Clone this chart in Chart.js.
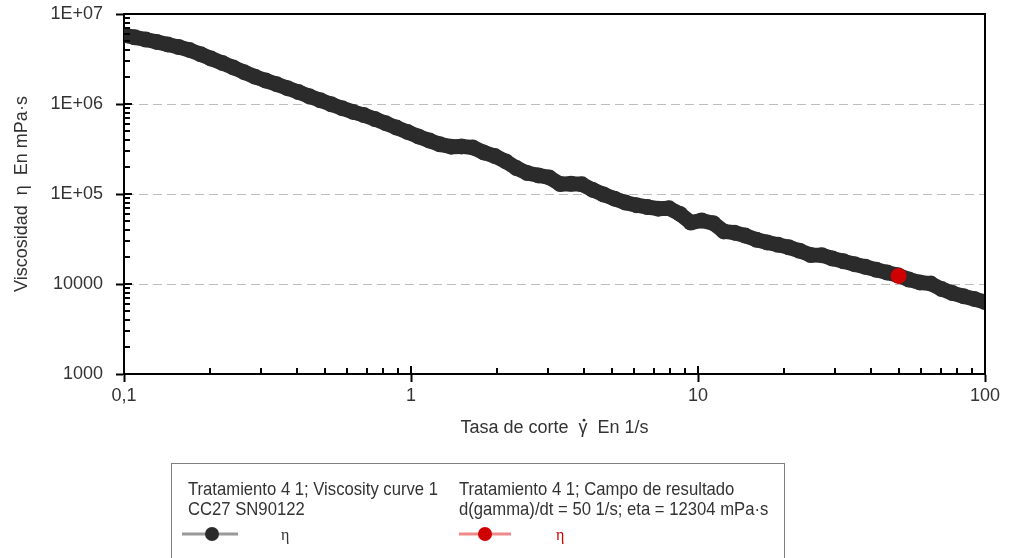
<!DOCTYPE html>
<html lang="es">
<head>
<meta charset="utf-8">
<title>Curva de viscosidad</title>
<script src="https://cdn.jsdelivr.net/npm/chart.js@4.4.1/dist/chart.umd.min.js"></script>
<style>
  html, body { margin: 0; padding: 0; background: #fff; }
  #wrap { width: 1013px; height: 558px; }
</style>
</head>
<body>
<div id="wrap"><canvas id="viscosity-chart" width="1013" height="558"></canvas></div>
<script>
// --- Datos: curva de viscosidad (Tratamiento 4 1) ---
const shearRate = [
    0.1, 0.109, 0.119, 0.130, 0.142, 0.155, 0.169, 0.185, 0.201, 0.220,
    0.240, 0.262, 0.286, 0.312, 0.340, 0.371, 0.405, 0.442, 0.483, 0.527,
    0.575, 0.628, 0.685, 0.748, 0.816, 0.890, 0.972, 1.06, 1.16, 1.26,
    1.38, 1.50, 1.64, 1.79, 1.96, 2.14, 2.33, 2.54, 2.78, 3.03,
    3.31, 3.61, 3.94, 4.30, 4.69, 5.12, 5.59, 6.10, 6.66, 7.26,
    7.93, 8.65, 9.44, 10.3, 11.3, 12.3, 13.4, 14.6, 16.0, 17.4,
    19.0, 20.7, 22.6, 24.7, 27.0, 29.4, 32.1, 35.1, 38.3, 41.8,
    45.6, 49.7, 54.3, 59.3, 64.7, 70.6, 77.0, 84.1, 91.7, 100
];
const viscosity = [
    5.84e6, 5.51e6, 5.21e6, 4.90e6, 4.59e6, 4.30e6, 3.99e6, 3.57e6, 3.20e6, 2.86e6,
    2.55e6, 2.26e6, 2.01e6, 1.82e6, 1.66e6, 1.50e6, 1.36e6, 1.22e6, 1.10e6, 9.93e5,
    8.98e5, 8.17e5, 7.53e5, 6.81e5, 6.12e5, 5.47e5, 4.89e5, 4.36e5, 3.92e5, 3.56e5,
    3.36e5, 3.38e5, 3.29e5, 2.90e5, 2.64e5, 2.30e5, 1.94e5, 1.71e5, 1.61e5, 1.53e5,
    1.29e5, 1.30e5, 1.28e5, 1.11e5, 9.87e4, 8.87e4, 8.02e4, 7.51e4, 7.17e4, 6.87e4,
    6.93e4, 6.01e4, 4.82e4, 5.08e4, 4.74e4, 3.84e4, 3.72e4, 3.45e4, 3.10e4, 2.90e4,
    2.73e4, 2.56e4, 2.34e4, 2.10e4, 2.09e4, 1.92e4, 1.79e4, 1.66e4, 1.55e4, 1.44e4,
    1.34e4, 1.25e4, 1.12e4, 1.04e4, 1.01e4, 8.78e3, 7.92e3, 7.32e3, 6.82e3, 6.31e3
];

// Campo de resultado
const resultRate = [50];
const resultEta = [12304];

// Ejes
const xDecades = [0.1, 1, 10, 100];
const xDecadeLabels = ['0,1', '1', '10', '100'];
const yDecades = [1000, 10000, 1e5, 1e6, 1e7];
const yDecadeLabels = ['1000', '10000', '1E+05', '1E+06', '1E+07'];
const minorSteps = [2, 3, 4, 5, 6, 7, 8, 9];

const FONT = "'Liberation Sans', Arial, sans-serif";
const TEXT_COLOR = '#333';
const CURVE_COLOR = '#2b2b2b';
const RESULT_COLOR = '#d10000';
const X_TITLE_HEAD = 'Tasa de corte  ';

// Lista de marcas: décadas + subdivisiones 2..9
function logTicks(decades) {
    const list = [];
    decades.forEach((d, i) => {
        list.push({ value: d, major: true });
        if (i < decades.length - 1) {
            minorSteps.forEach(m => list.push({ value: d * m, major: false }));
        }
    });
    return list;
}

function isDecade(decades, v) {
    return decades.some(d => Math.abs(d - v) < d * 1e-6);
}

function decadeLabel(decades, labels, v) {
    const i = decades.findIndex(d => Math.abs(d - v) < d * 1e-6);
    return i >= 0 ? labels[i] : '';
}

// Marcas interiores y marco superior/derecho
const frameAndInnerTicks = {
    id: 'frameAndInnerTicks',
    afterDatasetsDraw(chart) {
        const { ctx, chartArea: a, scales: { x, y } } = chart;
        ctx.save();
        ctx.strokeStyle = '#000';
        ctx.lineWidth = 2;
        ctx.beginPath();
        x.ticks.forEach(t => {
            const px = Math.round(x.getPixelForValue(t.value));
            const len = isDecade(xDecades, t.value) ? 8 : 6;
            ctx.moveTo(px, a.bottom);
            ctx.lineTo(px, a.bottom - len);
        });
        y.ticks.forEach(t => {
            const py = Math.round(y.getPixelForValue(t.value));
            const len = isDecade(yDecades, t.value) ? 8 : 6;
            ctx.moveTo(a.left, py);
            ctx.lineTo(a.left + len, py);
        });
        ctx.moveTo(a.left, a.top);
        ctx.lineTo(a.right, a.top);
        ctx.lineTo(a.right, a.bottom);
        ctx.stroke();
        ctx.restore();
    }
};

// Punto de derivada temporal sobre la gamma del título del eje X
const gammaDot = {
    id: 'gammaDot',
    afterDraw(chart) {
        const { ctx, scales: { x } } = chart;
        const title = x.options.title;
        ctx.save();
        ctx.font = title.font.size + 'px ' + FONT;
        const full = ctx.measureText(title.text).width;
        const head = ctx.measureText(X_TITLE_HEAD).width;
        const g = ctx.measureText('γ').width;
        const cx = (x.left + x.right) / 2 - full / 2 + head + g / 2 + 1;
        const cy = x.bottom - title.font.size * 1.2 / 2 - title.padding.bottom - 8;
        ctx.fillStyle = TEXT_COLOR;
        ctx.beginPath();
        ctx.arc(cx, cy, 1.4, 0, Math.PI * 2);
        ctx.fill();
        ctx.restore();
    }
};

// Texto estrecho: se comprime en horizontal
function narrowText(ctx, text, x, y, sx) {
    ctx.save();
    ctx.translate(x, y);
    ctx.scale(sx, 1);
    ctx.fillText(text, 0, 0);
    ctx.restore();
}

// Leyenda en recuadro bajo el gráfico
const boxLegend = {
    id: 'boxLegend',
    afterDraw(chart) {
        const { ctx } = chart;
        ctx.save();
        ctx.strokeStyle = '#808080';
        ctx.lineWidth = 1;
        ctx.strokeRect(171.5, 463.5, 613, 120);

        const line1 = 'Tratamiento 4 1; Viscosity curve 1';
        ctx.fillStyle = TEXT_COLOR;
        ctx.textBaseline = 'alphabetic';
        ctx.textAlign = 'left';
        ctx.font = '19px ' + FONT;
        const sx = 250 / ctx.measureText(line1).width;
        narrowText(ctx, line1, 188, 495, sx);
        narrowText(ctx, 'CC27 SN90122', 188, 515, sx);
        narrowText(ctx, 'Tratamiento 4 1; Campo de resultado', 459, 495, sx);
        narrowText(ctx, 'd(gamma)/dt = ' + resultRate[0] + ' 1/s; eta = ' + resultEta[0] + ' mPa·s', 459, 515, sx);

        // Símbolo serie 1
        ctx.strokeStyle = '#999';
        ctx.lineWidth = 3;
        ctx.beginPath();
        ctx.moveTo(182, 534);
        ctx.lineTo(238, 534);
        ctx.stroke();
        ctx.fillStyle = CURVE_COLOR;
        ctx.beginPath();
        ctx.arc(212, 534, 7, 0, Math.PI * 2);
        ctx.fill();

        // Símbolo serie 2
        ctx.strokeStyle = '#f08a8a';
        ctx.beginPath();
        ctx.moveTo(459, 534);
        ctx.lineTo(511, 534);
        ctx.stroke();
        ctx.fillStyle = RESULT_COLOR;
        ctx.beginPath();
        ctx.arc(485, 534, 7, 0, Math.PI * 2);
        ctx.fill();

        ctx.font = "16px 'Liberation Serif', serif";
        ctx.textBaseline = 'middle';
        ctx.fillStyle = TEXT_COLOR;
        ctx.fillText('η', 281, 536);
        ctx.fillStyle = RESULT_COLOR;
        ctx.fillText('η', 556, 536);
        ctx.restore();
    }
};

const canvas = document.getElementById('viscosity-chart');

new Chart(canvas, {
    type: 'line',
    data: {
        datasets: [
            {
                label: 'η resultado',
                data: resultRate.map((r, i) => ({ x: r, y: resultEta[i] })),
                showLine: false,
                pointRadius: 8,
                pointHoverRadius: 8,
                pointBorderWidth: 0,
                pointBackgroundColor: RESULT_COLOR,
                borderColor: '#f08a8a',
                order: 0
            },
            {
                label: 'η',
                data: shearRate.map((r, i) => ({ x: r, y: viscosity[i] })),
                showLine: true,
                // los marcadores se solapan y forman una banda continua
                borderColor: CURVE_COLOR,
                borderWidth: 15,
                borderJoinStyle: 'round',
                borderCapStyle: 'round',
                pointRadius: 8,
                pointHoverRadius: 8,
                pointBorderWidth: 0,
                pointBackgroundColor: CURVE_COLOR,
                order: 1
            }
        ]
    },
    options: {
        responsive: false,
        animation: false,
        events: [],
        layout: { padding: { left: 0, top: 14, right: 28, bottom: 118 } },
        plugins: {
            legend: { display: false },
            tooltip: { enabled: false }
        },
        scales: {
            x: {
                type: 'logarithmic',
                min: 0.1,
                max: 100,
                afterBuildTicks: (scale) => { scale.ticks = logTicks(xDecades); },
                afterFit: (scale) => {
                    scale.height = 66;
                    scale.paddingLeft = 0;
                    scale.paddingRight = 0;
                },
                border: { color: '#000', width: 2 },
                grid: {
                    drawOnChartArea: false,
                    tickLength: 8,
                    tickWidth: 2,
                    tickColor: (c) => isDecade(xDecades, c.tick.value) ? '#000' : 'rgba(0,0,0,0)'
                },
                ticks: {
                    autoSkip: false,
                    maxRotation: 0,
                    padding: 3,
                    color: TEXT_COLOR,
                    font: { family: FONT, size: 18 },
                    callback: (v) => decadeLabel(xDecades, xDecadeLabels, v)
                },
                title: {
                    display: true,
                    text: X_TITLE_HEAD + 'γ  En 1/s',
                    color: TEXT_COLOR,
                    font: { family: FONT, size: 18 },
                    padding: { top: 0, bottom: 1 }
                }
            },
            y: {
                type: 'logarithmic',
                min: 1000,
                max: 1e7,
                afterBuildTicks: (scale) => { scale.ticks = logTicks(yDecades); },
                afterFit: (scale) => {
                    scale.width = 124;
                    scale.paddingTop = 0;
                    scale.paddingBottom = 0;
                },
                border: { color: '#000', width: 2, dash: [9, 5] },
                grid: {
                    color: (c) => isDecade(yDecades, c.tick.value) ? '#bdbdbd' : 'rgba(0,0,0,0)',
                    lineWidth: 1,
                    tickLength: 8,
                    tickWidth: 2,
                    tickBorderDash: [],
                    tickColor: (c) => isDecade(yDecades, c.tick.value) ? '#000' : 'rgba(0,0,0,0)'
                },
                ticks: {
                    autoSkip: false,
                    padding: 13,
                    color: TEXT_COLOR,
                    font: { family: FONT, size: 18 },
                    callback: (v) => decadeLabel(yDecades, yDecadeLabels, v)
                },
                title: {
                    display: true,
                    text: 'Viscosidad  η  En mPa·s',
                    color: TEXT_COLOR,
                    font: { family: FONT, size: 18 },
                    padding: { top: 11, bottom: 0 }
                }
            }
        }
    },
    plugins: [frameAndInnerTicks, gammaDot, boxLegend]
});
</script>
</body>
</html>
